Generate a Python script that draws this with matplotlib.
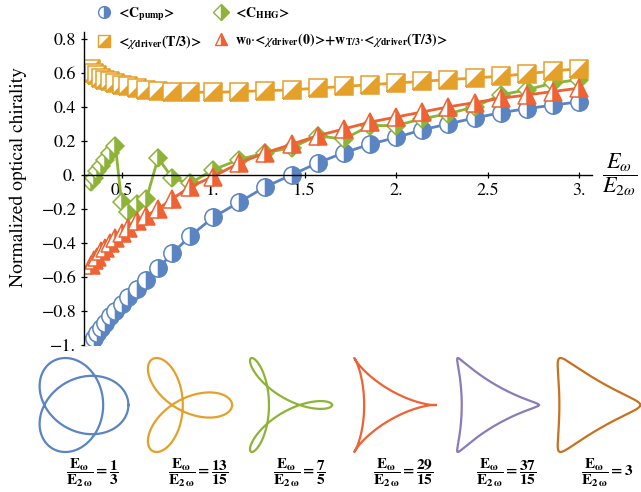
import numpy as np
import matplotlib

matplotlib.use("Agg")
import matplotlib.pyplot as plt  # noqa: E402
from matplotlib.lines import Line2D  # noqa: E402
from matplotlib.markers import MarkerStyle  # noqa: E402
from matplotlib.transforms import Affine2D  # noqa: E402

plt.rcParams["font.family"] = ["STIXGeneral", "DejaVu Serif"]
plt.rcParams["mathtext.fontset"] = "stix"

# field ratio E_w / E_2w on the x axis
RATIO = [0.333, 0.35, 0.368, 0.389, 0.412, 0.438, 0.467, 0.5, 0.538, 0.583,
         0.636, 0.7, 0.778, 0.875, 1.0, 1.143, 1.286, 1.429, 1.571, 1.714,
         1.857, 2.0, 2.143, 2.286, 2.429, 2.571, 2.714, 2.857, 3.0]
C_PUMP = [-0.99, -0.96, -0.93, -0.90, -0.87, -0.83, -0.80, -0.76, -0.72, -0.67,
          -0.62, -0.55, -0.46, -0.36, -0.25, -0.16, -0.07, 0.0, 0.07, 0.13,
          0.18, 0.22, 0.265, 0.30, 0.335, 0.365, 0.39, 0.41, 0.43]
C_HHG = [-0.04, -0.02, 0.02, 0.05, 0.09, 0.13, 0.17, -0.16, -0.22, -0.17,
         -0.14, 0.10, -0.02, -0.05, 0.03, 0.09, 0.13, 0.16, 0.23, 0.21,
         0.29, 0.29, 0.33, 0.36, 0.40, 0.47, 0.50, 0.54, 0.56]
CHI_T3 = [0.62, 0.60, 0.585, 0.572, 0.56, 0.55, 0.54, 0.53, 0.52, 0.51,
          0.50, 0.495, 0.49, 0.487, 0.485, 0.49, 0.495, 0.50, 0.51, 0.52,
          0.53, 0.54, 0.55, 0.56, 0.57, 0.58, 0.595, 0.61, 0.625]
W_SUM = [-0.53, -0.50, -0.48, -0.45, -0.43, -0.40, -0.37, -0.34, -0.31, -0.27,
         -0.24, -0.20, -0.14, -0.07, -0.01, 0.07, 0.13, 0.18, 0.23, 0.27,
         0.31, 0.34, 0.37, 0.40, 0.425, 0.45, 0.47, 0.49, 0.51]

X_TICKS = [0.5, 1.0, 1.5, 2.0, 2.5, 3.0]
X_LABELS = ["0.5", "1.", "1.5", "2.", "2.5", "3."]
Y_TICKS = [-1.0, -0.8, -0.6, -0.4, -0.2, 0.0, 0.2, 0.4, 0.6, 0.8]
Y_LABELS = ["\u22121.", "\u22120.8", "\u22120.6", "\u22120.4", "\u22120.2",
            "0.", "0.2", "0.4", "0.6", "0.8"]

# example field shapes shown under the plot
SHAPE_RATIOS = [1 / 3, 13 / 15, 7 / 5, 29 / 15, 37 / 15, 3.0]
SHAPE_LABELS = [r"\dfrac{\mathbf{1}}{\mathbf{3}}", r"\dfrac{\mathbf{13}}{\mathbf{15}}",
                r"\dfrac{\mathbf{7}}{\mathbf{5}}", r"\dfrac{\mathbf{29}}{\mathbf{15}}",
                r"\dfrac{\mathbf{37}}{\mathbf{15}}", r"\mathbf{3}"]
SHAPE_COLORS = ["#5B84C2", "#E5A02A", "#8DB437", "#EE6234", "#8A7BB9", "#C8711F"]

BLUE, ORANGE, GREEN, RED = SHAPE_COLORS[:4]

W, H = 641, 492
fig = plt.figure(figsize=(W / 100, H / 100), dpi=100)


def px_box(left, top, right, bottom):
    return [left / W, 1 - bottom / H, (right - left) / W, (bottom - top) / H]


ax = fig.add_axes(px_box(84, 32, 592, 345))

square = MarkerStyle("D", fillstyle="right", transform=Affine2D().rotate_deg(-45))
series = [
    (C_PUMP, BLUE, MarkerStyle("o", fillstyle="right"), 12.5, r"<C$_{\mathbf{pump}}$>"),
    (C_HHG, GREEN, MarkerStyle("D", fillstyle="right"), 9.5, r"<C$_{\mathbf{HHG}}$>"),
    (CHI_T3, ORANGE, square, 12.5, r"<$\chi_{\mathbf{driver}}$(T/3)>"),
    (W_SUM, RED, MarkerStyle("^", fillstyle="right"), 13,
     r"w$_{\mathbf{0}}$$\cdot$<$\chi_{\mathbf{driver}}$(0)>+w$_{\mathbf{T/3}}$"
     r"$\cdot$<$\chi_{\mathbf{driver}}$(T/3)>"),
]
handles = []
for values, color, marker, size, label in series:
    ax.plot(RATIO, values, color=color, linewidth=2.0, marker=marker,
            markersize=size, markeredgewidth=1.1, markeredgecolor=color,
            markerfacecolor=color, markerfacecoloralt="white")
    handles.append(Line2D([], [], linestyle="none", marker=marker, markersize=8.5,
                          markeredgewidth=1.0, markeredgecolor=color,
                          markerfacecolor=color, markerfacecoloralt="white",
                          label=label))

ax.set_xlim(0.295, 3.07)
ax.set_ylim(-1.0, 0.84)
ax.spines["bottom"].set_position(("data", 0))
ax.spines["top"].set_visible(False)
ax.spines["right"].set_visible(False)
for side in ("left", "bottom"):
    ax.spines[side].set_linewidth(1.0)
ax.set_xticks(X_TICKS, X_LABELS)
ax.set_yticks(Y_TICKS, Y_LABELS)
ax.tick_params(direction="inout", length=5, width=0.9, labelsize=13, pad=3)
ax.set_ylabel("Normalized optical chirality", fontsize=14)
ax.yaxis.set_label_coords(-0.112, 0.537)
ax.patch.set_alpha(0)

fig.text(620 / W, 1 - 175 / H, r"$\dfrac{E_\omega}{E_{2\omega}}$", fontsize=16,
         ha="center", va="center")

order = [handles[0], handles[2], handles[1], handles[3]]
fig.legend(handles=order, labels=[h.get_label() for h in order], ncol=2,
           loc="upper left", bbox_to_anchor=(94 / W, 1.0 - 2 / H), frameon=False,
           prop={"size": 10, "weight": "bold"}, handlelength=1.0,
           handletextpad=0.5, columnspacing=0.9, labelspacing=0.75,
           borderaxespad=0.0, borderpad=0.2)

# bicircular field trajectories
t = np.linspace(0, 2 * np.pi, 600)
centers = [84, 190, 291, 395, 498, 599]
for ratio, color, label, cx in zip(SHAPE_RATIOS, SHAPE_COLORS, SHAPE_LABELS, centers):
    ex = ratio * np.cos(t) + np.cos(2 * t)
    ey = ratio * np.sin(t) - np.sin(2 * t)
    sub = fig.add_axes(px_box(cx - 50, 355, cx + 50, 455))
    sub.plot(ex, ey, color=color, linewidth=1.6)
    half = (ey.max() - ey.min()) / 2 * 100 / 94
    mx = (ex.max() + ex.min()) / 2
    my = (ey.max() + ey.min()) / 2
    sub.set_xlim(mx - half, mx + half)
    sub.set_ylim(my - half, my + half)
    sub.axis("off")
    fig.text((cx + 8) / W, 1 - 473 / H,
             r"$\dfrac{\mathbf{E}_{\mathbf{\omega}}}{\mathbf{E}_{\mathbf{2\,\omega}}}"
             r"\mathbf{=}" + label + "$",
             fontsize=11, ha="center", va="center")

fig.savefig("out.png", dpi=100)
